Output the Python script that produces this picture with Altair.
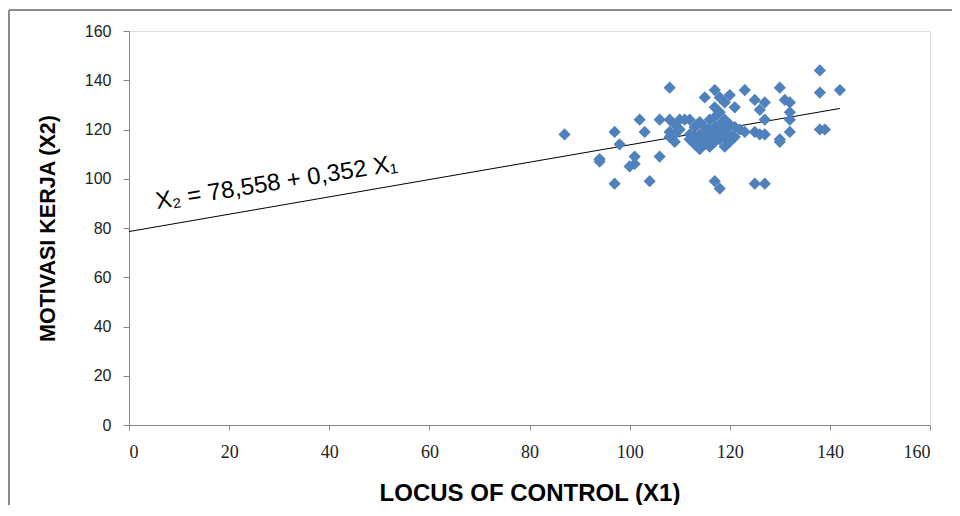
import altair as alt
import pandas as pd

# Data
locus = [87, 94, 94, 97, 97, 98, 100, 101, 101, 102, 103, 104, 106, 106,
         108, 108, 108, 108, 109, 109, 109, 110, 110, 111, 112, 112, 112,
         113, 113, 113, 114, 114, 114, 114, 115, 115, 115, 115, 115,
         116, 116, 116, 116, 117, 117, 117, 117, 117, 117, 117,
         118, 118, 118, 118, 118, 118, 119, 119, 119, 119, 119,
         120, 120, 120, 120, 121, 121, 121, 122, 123, 123, 125, 125, 125,
         126, 126, 127, 127, 127, 127, 130, 130, 130, 131, 132, 132, 132, 132,
         138, 138, 138, 139, 142]
motivasi = [118, 108, 107, 119, 98, 114, 105, 106, 109, 124, 119, 99, 109, 124,
            137, 124, 119, 117, 122, 118, 115, 124, 120, 124, 124, 118, 116,
            121, 117, 114, 123, 118, 112, 115, 133, 121, 118, 114, 116,
            124, 120, 117, 113, 136, 129, 125, 121, 118, 115, 99,
            133, 127, 122, 119, 116, 96, 131, 124, 120, 117, 113,
            134, 122, 118, 115, 129, 121, 117, 120, 136, 119, 132, 119, 98,
            128, 118, 131, 124, 118, 98, 137, 116, 115, 132, 131, 127, 124, 119,
            144, 135, 120, 120, 136]

intercept = 78.558
slope = 0.352
line_x = [0, 142]
equation = "X\u2082 = 78,558 + 0,352 X\u2081"

df = pd.DataFrame({"x": locus, "y": motivasi})
line_df = pd.DataFrame({"x": line_x, "y": [intercept + slope * v for v in line_x]})

xscale = alt.Scale(domain=[0, 160], nice=False, zero=True)
yscale = alt.Scale(domain=[0, 160], nice=False, zero=True)

xaxis = alt.Axis(values=list(range(0, 161, 20)), title="LOCUS OF CONTROL (X1)",
                 grid=False, tickSize=5, labelPadding=13, titlePadding=20,
                 labelFontSize=18, titleFontSize=24, titleFontWeight="bold",
                 titleFont="Liberation Sans", labelFont="Liberation Sans Narrow",
                 domainColor="#868686", tickColor="#868686", labelColor="#222222",
                 titleColor="#000000")
yaxis = alt.Axis(values=list(range(0, 161, 20)), title="MOTIVASI KERJA (X2)",
                 grid=False, tickSize=6, labelPadding=12, titlePadding=25,
                 labelFontSize=16, titleFontSize=21.5, titleFontWeight="bold",
                 titleFont="Liberation Sans", labelFont="Liberation Sans",
                 domainColor="#868686", tickColor="#868686", labelColor="#222222",
                 titleColor="#000000")

points = alt.Chart(df).mark_point(shape="diamond", filled=True, size=150,
                                  color="#4F81BD", opacity=1).encode(
    x=alt.X("x:Q", scale=xscale, axis=xaxis),
    y=alt.Y("y:Q", scale=yscale, axis=yaxis),
)

reg = alt.Chart(line_df).mark_line(color="#000000", strokeWidth=1).encode(
    x=alt.X("x:Q", scale=xscale),
    y=alt.Y("y:Q", scale=yscale),
)

label = alt.Chart(pd.DataFrame({"t": [equation]})).mark_text(
    align="left", baseline="alphabetic", angle=351, fontSize=24,
    font="Liberation Sans", color="#000000").encode(
    x=alt.value(28), y=alt.value(178), text="t:N")

frame_top = alt.Chart(pd.DataFrame({"a": [0]})).mark_rule(
    color="#8c8c8c", strokeWidth=2).encode(
    x=alt.value(-120), x2=alt.value(830), y=alt.value(-21))
frame_left = alt.Chart(pd.DataFrame({"a": [0]})).mark_rule(
    color="#8c8c8c", strokeWidth=2).encode(
    x=alt.value(-120), y=alt.value(-21), y2=alt.value(480))

chart = alt.layer(reg, points, label, frame_top, frame_left).properties(
    width=801, height=394,
    autosize=alt.AutoSizeParams(type="none"),
    padding={"left": 121, "top": 23, "right": 22, "bottom": 80},
).configure_view(stroke=None).configure(background="#ffffff")

chart.save("out.html", embed_options={"renderer": "svg", "actions": False})
